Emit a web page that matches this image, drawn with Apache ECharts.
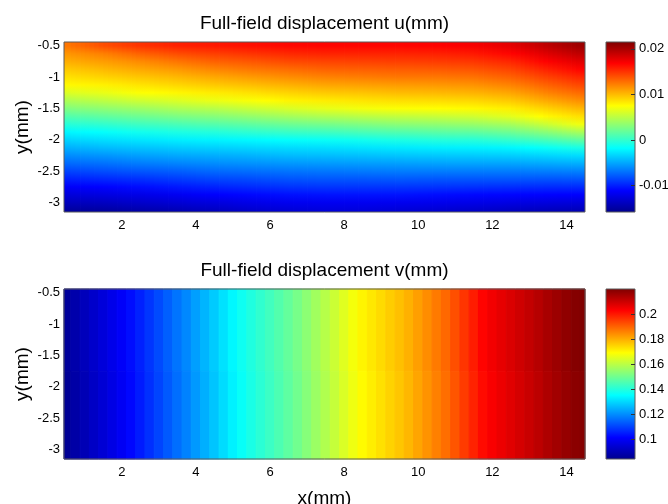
<!DOCTYPE html>
<html>
<head>
<meta charset="utf-8">
<title>Full-field displacement</title>
<script src="https://cdn.jsdelivr.net/npm/echarts@6/dist/echarts.min.js"></script>
<style>
  html, body { margin: 0; padding: 0; background: #fff; }
  #chart { width: 668px; height: 504px; }
</style>
</head>
<body>
<div id="chart"></div>
<script>
// ---- data ----
const xRange = [0.44, 14.5];
const yRange = [-3.15, -0.44];
const uRange = [-0.0158, 0.0215];
const vRange = [0.0845, 0.22];

// u field: column centres and row centres (mm)
const uX = [0.5, 1.5, 2.5, 3.5, 4.5, 5.5, 6.5, 7.5, 8.5, 9.5, 10.5, 11.5, 12.5, 13.5, 14.5];
const uY = [-0.5, -0.625, -0.75, -0.875, -1, -1.125, -1.25, -1.375, -1.5, -1.625, -1.75,
  -1.875, -2, -2.125, -2.25, -2.375, -2.5, -2.625, -2.75, -2.875, -3, -3.125];
// u in 1e-3 mm, one array per x column, top to bottom
const uE3 = [
  [12.5, 11.4, 10.5, 9.5, 8.6, 7.7, 6.2, 4.5, 2.9, 1.2, -0.4, -2.1, -3.4, -4.7, -6.0, -7.3, -8.7, -10.0, -11.4, -12.7, -13.9, -15.2],
  [14.0, 12.2, 11.1, 10.1, 9.1, 8.0, 6.7, 5.1, 3.4, 1.7, 0.0, -1.7, -3.0, -4.3, -5.7, -7.0, -8.3, -9.7, -11.1, -12.4, -13.7, -15.0],
  [15.0, 13.3, 11.8, 10.7, 9.6, 8.5, 7.4, 5.7, 3.9, 2.2, 0.5, -1.2, -2.7, -4.0, -5.3, -6.6, -8.0, -9.4, -10.7, -12.1, -13.3, -14.6],
  [15.7, 14.1, 12.6, 11.3, 10.1, 9.0, 7.8, 6.2, 4.5, 2.7, 0.9, -0.8, -2.4, -3.7, -5.0, -6.3, -7.7, -9.0, -10.3, -11.7, -12.9, -14.2],
  [16.0, 14.6, 13.3, 12.0, 10.7, 9.5, 8.2, 6.8, 4.9, 3.1, 1.3, -0.5, -2.2, -3.5, -4.8, -6.0, -7.3, -8.6, -9.9, -11.2, -12.5, -13.7],
  [16.3, 15.0, 13.7, 12.5, 11.2, 9.9, 8.6, 7.3, 5.5, 3.6, 1.7, -0.1, -2.0, -3.3, -4.6, -5.8, -7.1, -8.4, -9.6, -10.9, -12.1, -13.2],
  [16.6, 15.4, 14.2, 12.9, 11.7, 10.4, 9.1, 7.9, 6.1, 4.2, 2.2, 0.3, -1.7, -3.1, -4.3, -5.6, -6.9, -8.1, -9.3, -10.6, -11.8, -12.8],
  [16.7, 15.6, 14.4, 13.3, 12.1, 10.8, 9.5, 8.2, 6.6, 4.6, 2.5, 0.5, -1.5, -3.0, -4.2, -5.5, -6.8, -8.0, -9.2, -10.5, -11.7, -12.6],
  [16.7, 15.6, 14.5, 13.4, 12.3, 11.0, 9.7, 8.5, 7.1, 5.0, 2.9, 0.9, -1.2, -2.8, -4.1, -5.4, -6.7, -8.0, -9.2, -10.5, -11.7, -12.6],
  [16.7, 15.6, 14.6, 13.5, 12.5, 11.2, 10.0, 8.7, 7.4, 5.3, 3.3, 1.2, -0.8, -2.6, -3.9, -5.3, -6.6, -7.9, -9.2, -10.5, -11.8, -12.8],
  [16.8, 15.7, 14.7, 13.6, 12.5, 11.3, 10.1, 8.8, 7.5, 5.5, 3.5, 1.5, -0.5, -2.4, -3.8, -5.2, -6.6, -8.0, -9.3, -10.7, -11.9, -13.0],
  [17.1, 16.0, 14.9, 13.8, 12.7, 11.5, 10.3, 9.0, 7.7, 5.8, 3.8, 1.7, -0.4, -2.3, -3.7, -5.1, -6.6, -8.0, -9.4, -10.9, -12.1, -13.3],
  [17.8, 16.7, 15.5, 14.4, 13.3, 12.1, 10.8, 9.5, 8.1, 6.5, 4.3, 2.2, 0.1, -2.1, -3.6, -5.1, -6.6, -8.0, -9.5, -11.0, -12.3, -13.6],
  [19.3, 18.1, 16.9, 15.7, 14.5, 13.3, 12.1, 10.7, 9.2, 7.8, 5.7, 3.3, 0.9, -1.5, -3.3, -4.9, -6.5, -8.1, -9.6, -11.1, -12.5, -13.9],
  [20.6, 19.4, 18.1, 16.9, 15.6, 14.4, 13.1, 11.8, 10.3, 8.8, 7.2, 4.5, 1.8, -0.8, -3.0, -4.7, -6.4, -8.0, -9.6, -11.2, -12.7, -14.1]
];

// v field: cell centres (mm)
const vX = [0.5, 0.75, 1, 1.25, 1.5, 1.75, 2, 2.25, 2.5, 2.75, 3, 3.25, 3.5, 3.75, 4, 4.25, 4.5, 4.75,
  5, 5.25, 5.5, 5.75, 6, 6.25, 6.5, 6.75, 7, 7.25, 7.5, 7.75, 8, 8.25, 8.5, 8.75, 9, 9.25, 9.5, 9.75,
  10, 10.25, 10.5, 10.75, 11, 11.25, 11.5, 11.75, 12, 12.25, 12.5, 12.75, 13, 13.25, 13.5, 13.75, 14, 14.25, 14.5];
const vY = [-1.0, -2.5];
// v (mm) along x, upper half and lower half of the field
const vUpper = [0.0864, 0.0888, 0.0911, 0.0935, 0.0958, 0.0982, 0.1005, 0.1030, 0.1057, 0.1085, 0.1112, 0.1140,
  0.1168, 0.1195, 0.1225, 0.1255, 0.1284, 0.1314, 0.1344, 0.1371, 0.1394, 0.1417, 0.1439, 0.1462, 0.1485,
  0.1511, 0.1539, 0.1567, 0.1595, 0.1623, 0.1650, 0.1678, 0.1705, 0.1723, 0.1740, 0.1758, 0.1776, 0.1796,
  0.1820, 0.1844, 0.1869, 0.1893, 0.1926, 0.1960, 0.1993, 0.2026, 0.2046, 0.2063, 0.2079, 0.2094, 0.2110,
  0.2128, 0.2146, 0.2163, 0.2178, 0.2193, 0.2199];
const vLower = [0.0856, 0.0880, 0.0903, 0.0927, 0.0950, 0.0974, 0.0997, 0.1022, 0.1049, 0.1077, 0.1104, 0.1132,
  0.1160, 0.1187, 0.1217, 0.1247, 0.1276, 0.1306, 0.1336, 0.1363, 0.1386, 0.1409, 0.1431, 0.1454, 0.1477,
  0.1503, 0.1531, 0.1559, 0.1587, 0.1615, 0.1642, 0.1670, 0.1697, 0.1715, 0.1732, 0.1750, 0.1768, 0.1788,
  0.1812, 0.1836, 0.1861, 0.1885, 0.1918, 0.1952, 0.1985, 0.2018, 0.2038, 0.2055, 0.2071, 0.2086, 0.2102,
  0.2120, 0.2138, 0.2155, 0.2170, 0.2185, 0.2191];

// MATLAB jet
const jet = ['#00008f', '#0000ff', '#0080ff', '#00ffff', '#80ff80', '#ffff00', '#ff8000', '#ff0000', '#800000'];
const FONT = '"Liberation Sans", Arial, Helvetica, sans-serif';

function jetColor(value, range) {
  let t = (value - range[0]) / (range[1] - range[0]);
  t = Math.max(0, Math.min(1, t));
  return echarts.color.lerp(t, jet);
}

function clipToGrid(rect, cs) {
  return echarts.graphic.clipRectByRect(rect, { x: cs.x, y: cs.y, width: cs.width, height: cs.height });
}

// u: each x column is shaded like "shading interp": down the rows, and across
// towards the neighbouring column, in thin sub-strips
const SUB = 8;
function renderUColumn(params, api) {
  const i = api.value(1);
  const x = uX[i];
  const dx = uX[1] - uX[0];
  const dy = uY[0] - uY[1];
  const yTop = uY[0] + dy / 2;
  const yBottom = uY[uY.length - 1] - dy / 2;
  const children = [];
  for (let k = 0; k < SUB; k++) {
    const x0 = x - dx / 2 + k * dx / SUB;
    const x1 = x0 + dx / SUB;
    const xm = (x0 + x1) / 2;
    const n = xm < x ? i - 1 : i + 1;
    const hasNeighbour = n >= 0 && n < uX.length;
    const w = hasNeighbour ? Math.abs(xm - x) / dx : 0;
    const other = hasNeighbour ? uE3[n] : uE3[i];
    const a = api.coord([x0, yTop]);
    const b = api.coord([x1, yBottom]);
    const shape = clipToGrid({ x: a[0], y: a[1], width: b[0] - a[0] + 0.8, height: b[1] - a[1] }, params.coordSys);
    if (!shape) {
      continue;
    }
    const stops = uY.map((y, j) => {
      const py = api.coord([x, y])[1];
      const offset = Math.max(0, Math.min(1, (py - shape.y) / shape.height));
      const value = (1 - w) * uE3[i][j] + w * other[j];
      return { offset: offset, color: jetColor(value / 1000, uRange) };
    });
    children.push({
      type: 'rect',
      shape: shape,
      style: { fill: new echarts.graphic.LinearGradient(0, 0, 0, 1, stops) }
    });
  }
  return { type: 'group', children: children };
}

// v: plain cells, like the banded contour fill of the reference
function renderVCell(params, api) {
  const x = api.value(0);
  const y = api.value(1);
  const dx = vX[1] - vX[0];
  const dy = vY[0] - vY[1];
  const a = api.coord([x - dx / 2, y + dy / 2]);
  const b = api.coord([x + dx / 2, y - dy / 2]);
  const shape = clipToGrid({ x: a[0], y: a[1], width: b[0] - a[0], height: b[1] - a[1] }, params.coordSys);
  if (!shape) {
    return null;
  }
  const color = jetColor(api.value(2), vRange);
  return { type: 'rect', shape: shape, style: { fill: color, stroke: color, lineWidth: 1 } };
}

// colour bar: one item [0, min, max]
function renderBar(params, api) {
  const a = api.coord([0, api.value(2)]);
  const b = api.coord([1, api.value(1)]);
  const stops = jet.map((c, i) => ({ offset: i / (jet.length - 1), color: c }));
  return {
    type: 'rect',
    shape: { x: a[0], y: a[1], width: b[0] - a[0], height: b[1] - a[1] },
    style: { fill: new echarts.graphic.LinearGradient(0, 1, 0, 0, stops) }
  };
}

const uStrips = uX.map((x, i) => [x, i]);
const vData = [];
vX.forEach((x, i) => {
  vData.push([x, vY[0], vUpper[i]]);
  vData.push([x, vY[1], vLower[i]]);
});

const labelStyle = { color: '#000', fontFamily: FONT, fontSize: 13 };
const frame = {
  show: true,
  borderColor: '#5a5a5a',
  borderWidth: 1,
  backgroundColor: 'transparent',
  z: 10,
  outerBoundsMode: 'none'
};

function fieldXAxis(gridIndex, name) {
  return {
    gridIndex: gridIndex,
    type: 'value',
    min: xRange[0],
    max: xRange[1],
    splitNumber: 7,
    name: name,
    nameLocation: 'middle',
    nameGap: 30,
    nameMoveOverlap: false,
    nameTextStyle: { color: '#000', fontFamily: FONT, fontSize: 19 },
    axisLine: { show: false },
    axisTick: { show: false },
    splitLine: { show: false },
    axisLabel: Object.assign({ margin: 7, showMinLabel: false, showMaxLabel: false }, labelStyle)
  };
}

function fieldYAxis(gridIndex) {
  return {
    gridIndex: gridIndex,
    type: 'value',
    min: yRange[0],
    max: yRange[1],
    splitNumber: 5,
    name: 'y(mm)',
    nameLocation: 'middle',
    nameGap: 32,
    nameMoveOverlap: false,
    nameTextStyle: { color: '#000', fontFamily: FONT, fontSize: 19 },
    axisLine: { show: false, onZero: false },
    axisTick: { show: false },
    splitLine: { show: false },
    axisLabel: Object.assign({ margin: 4, showMinLabel: false, showMaxLabel: false }, labelStyle)
  };
}

function barXAxis(gridIndex) {
  return { gridIndex: gridIndex, type: 'value', min: 0, max: 1, show: false };
}

function barYAxis(gridIndex, range, splitNumber) {
  return {
    gridIndex: gridIndex,
    type: 'value',
    position: 'right',
    min: range[0],
    max: range[1],
    splitNumber: splitNumber,
    z: 10,
    axisLine: { show: false, onZero: false },
    axisTick: { show: true, inside: true, length: 4, lineStyle: { color: '#333' } },
    splitLine: { show: false },
    axisLabel: Object.assign({
      margin: 4,
      showMinLabel: false,
      showMaxLabel: false,
      formatter: (v) => String(+v.toFixed(4))
    }, labelStyle)
  };
}

const chart = echarts.init(document.getElementById('chart'));

chart.setOption({
  animation: false,
  backgroundColor: '#fff',
  title: [
    {
      text: 'Full-field displacement u(mm)',
      left: 324.5, top: 14, padding: 0, textAlign: 'center',
      textStyle: { color: '#000', fontFamily: FONT, fontSize: 19, fontWeight: 'normal' }
    },
    {
      text: 'Full-field displacement v(mm)',
      left: 324.5, top: 261, padding: 0, textAlign: 'center',
      textStyle: { color: '#000', fontFamily: FONT, fontSize: 19, fontWeight: 'normal' }
    }
  ],
  grid: [
    Object.assign({ left: 64, top: 42, width: 521, height: 170 }, frame),
    Object.assign({ left: 606, top: 42, width: 29, height: 170 }, frame),
    Object.assign({ left: 64, top: 289, width: 521, height: 170 }, frame),
    Object.assign({ left: 606, top: 289, width: 29, height: 170 }, frame)
  ],
  xAxis: [fieldXAxis(0, ''), barXAxis(1), fieldXAxis(2, 'x(mm)'), barXAxis(3)],
  yAxis: [fieldYAxis(0), barYAxis(1, uRange, 4), fieldYAxis(2), barYAxis(3, vRange, 7)],
  series: [
    {
      name: 'u',
      type: 'custom',
      xAxisIndex: 0,
      yAxisIndex: 0,
      renderItem: renderUColumn,
      encode: { x: 0 },
      data: uStrips
    },
    {
      name: 'v',
      type: 'custom',
      xAxisIndex: 2,
      yAxisIndex: 2,
      renderItem: renderVCell,
      encode: { x: 0, y: 1 },
      data: vData
    },
    {
      name: 'u colour bar',
      type: 'custom',
      xAxisIndex: 1,
      yAxisIndex: 1,
      renderItem: renderBar,
      data: [[0, uRange[0], uRange[1]]]
    },
    {
      name: 'v colour bar',
      type: 'custom',
      xAxisIndex: 3,
      yAxisIndex: 3,
      renderItem: renderBar,
      data: [[0, vRange[0], vRange[1]]]
    }
  ]
});

window.addEventListener('resize', () => chart.resize());
</script>
</body>
</html>
